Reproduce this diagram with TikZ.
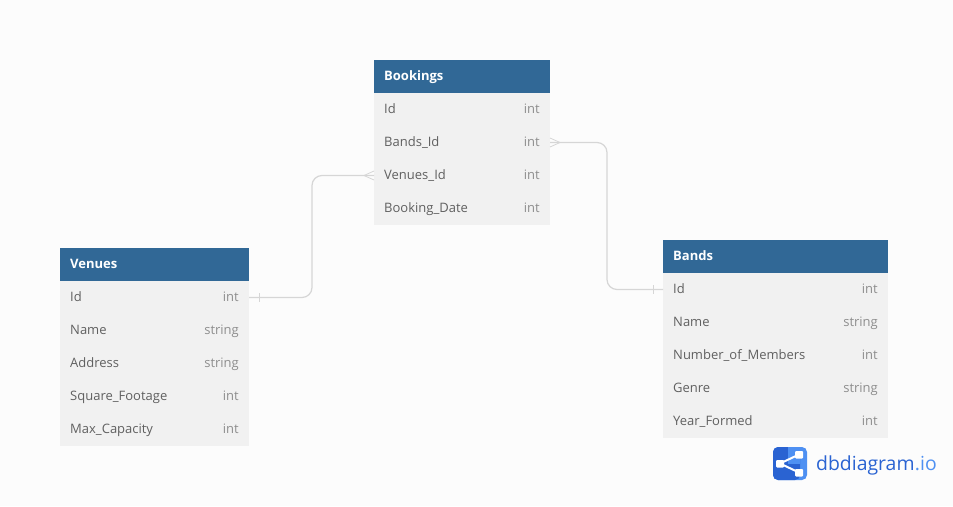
\documentclass[tikz,border=0pt]{standalone}
\usepackage{fontspec}
\setmainfont{Open Sans}
\definecolor{bgc}{HTML}{FCFCFC}
\definecolor{headc}{HTML}{316896}
\definecolor{rowc}{HTML}{F1F1F1}
\definecolor{fieldc}{HTML}{606060}
\definecolor{typec}{HTML}{8E8E8E}
\definecolor{linec}{HTML}{D6D6D6}
\definecolor{logod}{HTML}{2A63D2}
\definecolor{logol}{HTML}{4E90F2}
\newcommand{\dbtable}[5]{%
 \node[headbox,minimum width=#4pt] (#1) at (#2+#4/2,#3+16.5) {};
 \node[headtext] (#1T) at (#2+10,#3+20) {#5};
}
\newcommand{\dbrow}[6]{%
 \node[rowbox,minimum width=#3pt] (#1) at (#2+#3/2,#4+16.5) {};
 \node[fieldtext] (#1F) at (#2+10,#4+20) {#5};
 \node[typetext] (#1Y) at (#2+#3-10,#4+20) {#6};
}
\tikzset{
 headbox/.style={fill=headc,draw=none,minimum height=33pt,inner sep=0pt,outer sep=0pt},
 rowbox/.style={fill=rowc,draw=none,minimum height=33pt,inner sep=0pt,outer sep=0pt},
 headtext/.style={anchor=base west,inner sep=0pt,text=white,font=\fontsize{13}{16}\selectfont\bfseries},
 fieldtext/.style={anchor=base west,inner sep=0pt,text=fieldc,font=\fontsize{13}{16}\selectfont},
 typetext/.style={anchor=base east,inner sep=0pt,text=typec,font=\fontsize{13}{16}\selectfont},
 rel/.style={draw=linec,line width=1.2pt,rounded corners=10pt},
 relmark/.style={draw=linec,line width=0.8pt},
}
\begin{document}
\begin{tikzpicture}[x=1pt,y=-1pt]
\useasboundingbox (0,0) rectangle (953,506);
\fill[bgc] (0,0) rectangle (953,506);
% Bookings
\dbtable{book}{374}{60}{176}{Bookings}
\dbrow{bookId}{374}{176}{93}{Id}{int}
\dbrow{bookBand}{374}{176}{126}{Bands\_Id}{int}
\dbrow{bookVen}{374}{176}{159}{Venues\_Id}{int}
\dbrow{bookDate}{374}{176}{192}{Booking\_Date}{int}
% Venues
\dbtable{ven}{60}{248}{189}{Venues}
\dbrow{venId}{60}{189}{281}{Id}{int}
\dbrow{venName}{60}{189}{314}{Name}{string}
\dbrow{venAddr}{60}{189}{347}{Address}{string}
\dbrow{venSq}{60}{189}{380}{Square\_Footage}{int}
\dbrow{venMax}{60}{189}{413}{Max\_Capacity}{int}
% Bands
\dbtable{band}{663}{240}{225}{Bands}
\dbrow{bandId}{663}{225}{273}{Id}{int}
\dbrow{bandName}{663}{225}{306}{Name}{string}
\dbrow{bandNum}{663}{225}{339}{Number\_of\_Members}{int}
\dbrow{bandGen}{663}{225}{372}{Genre}{string}
\dbrow{bandYear}{663}{225}{405}{Year\_Formed}{int}
% connectors
\draw[rel] (venId.east) -- ++(63,0) |- (bookVen.west);
\draw[rel] (bookBand.east) -- ++(57,0) |- (bandId.west);
% one marks
\draw[relmark] ([xshift=10pt,yshift=4.5pt]venId.east) -- ++(0,9);
\draw[relmark] ([xshift=-10pt,yshift=4.5pt]bandId.west) -- ++(0,9);
% many marks
\draw[relmark] ([yshift=4.5pt]bookVen.west) -- ++(-10,4.5) -- ++(10,4.5);
\draw[relmark] ([yshift=4.5pt]bookBand.east) -- ++(10,4.5) -- ++(-10,4.5);
% logo
\fill[logol,rounded corners=5pt] (773,447) rectangle (807,480);
\fill[logod,rounded corners=5pt] (773,447) -- (773,480) -- (800,480) -- (800,447) -- cycle;
\fill[logol] (788,447) -- (800,447) -- (800,463.5) -- (788,463.5) -- cycle;
\draw[white,line width=2pt] (780,463.5) -- (799,454.5) (780,463.5) -- (799,472.5);
\fill[white,rounded corners=1pt] (776,460) rectangle (784,467.5);
\fill[white,rounded corners=1pt] (795,451) rectangle (803,458.5);
\fill[white,rounded corners=1pt] (795,469) rectangle (803,476.5);
\node[anchor=base west,inner sep=0pt,font=\fontsize{19.4}{24}\selectfont,text=logod] (logoa) at (816,470) {dbdiagram};
\node[anchor=base west,inner sep=0pt,font=\fontsize{19.4}{24}\selectfont,text=logol] (logob) at (logoa.base east) {.io};
\end{tikzpicture}
\end{document}
